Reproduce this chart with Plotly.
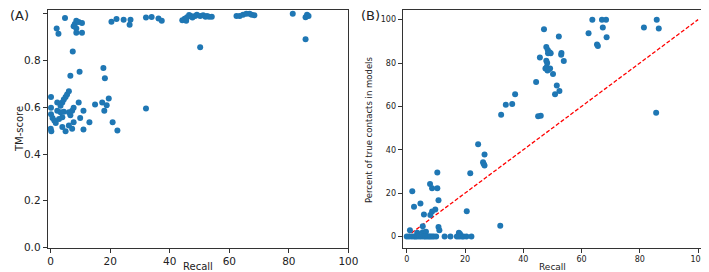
import plotly.graph_objects as go

# ---------- Panel A data: Recall vs TM-score ----------
recall_a = [4.8, 2.0, 2.6, 8.6, 8.1, 9.4, 10.5, 7.7, 8.6, 8.6, 10.5, 7.4, 6.6, 9.7, 17.7, 18.2,
            20.4, 22.1, 24.5, 26.8, 26.5, 32.0, 33.9, 36.2, 37.3, 32.0,
            44.2, 45.0, 45.5, 45.8, 46.5, 47.1, 47.6, 48.5, 49.1, 50.2, 51.2, 52.0, 52.5, 53.2, 54.1, 50.2,
            62.4, 63.5, 64.6, 65.7, 66.8, 67.5, 68.4, 81.3, 85.6, 85.6, 86.1, 86.6,
            0.1, 0.1, 0.1, 0.6, 1.2, 1.7, 0.0, 0.2, 2.2, 3.9, 4.4, 5.0, 5.5, 6.1, 3.3, 2.2, 3.3, 4.4,
            6.1, 7.2, 7.7, 6.6, 3.9, 2.8, 9.4, 11.0, 9.9, 7.7, 6.1, 3.9, 5.0, 7.2, 11.0, 13.0, 14.9,
            17.3, 18.8, 18.0, 19.5, 20.8, 22.4]
tm_score = [0.981, 0.937, 0.914, 0.970, 0.956, 0.964, 0.960, 0.946, 0.937, 0.918, 0.918, 0.838, 0.735, 0.752, 0.768, 0.724,
            0.965, 0.977, 0.974, 0.974, 0.953, 0.984, 0.986, 0.979, 0.970, 0.594,
            0.972, 0.978, 0.970, 0.985, 0.994, 0.990, 0.984, 0.990, 0.995, 0.990, 0.993, 0.987, 0.990, 0.987, 0.987, 0.856,
            0.990, 0.990, 0.995, 1.000, 1.000, 0.995, 0.993, 1.000, 0.891, 0.985, 0.995, 0.990,
            0.644, 0.598, 0.570, 0.554, 0.543, 0.533, 0.508, 0.497, 0.620, 0.620, 0.633, 0.644, 0.654, 0.668, 0.606, 0.585, 0.578, 0.581,
            0.578, 0.585, 0.598, 0.566, 0.557, 0.550, 0.620, 0.585, 0.554, 0.536, 0.522, 0.515, 0.497, 0.508, 0.505, 0.536, 0.612,
            0.620, 0.608, 0.585, 0.637, 0.536, 0.501]

# ---------- Panel B data: Recall vs percent of true contacts ----------
recall_b = [63.7, 62.4, 67.0, 68.4, 67.3, 65.3, 65.6, 68.6, 81.4, 85.8, 86.5, 85.6,
            47.1, 52.2, 45.7, 47.9, 48.4, 49.0, 49.4, 48.5, 53.1, 53.0, 47.9, 48.2, 53.9,
            48.0, 48.6, 49.2, 47.6, 48.3, 50.2, 44.4, 51.5, 50.9, 52.4, 45.1, 46.0,
            37.2, 36.2, 34.0, 32.4, 24.5, 26.7, 26.2, 26.4, 26.7, 21.8, 10.5, 8.0, 8.7, 10.5,
            1.9, 10.9, 2.5, 4.7, 5.9, 8.7, 8.1, 9.8, 20.6, 32.1, 10.9, 11.2, 1.1, 5.5, 3.6,
            5.5, 6.1, 6.6, 17.9, 18.3,
            0.0, 0.8, 1.7, 2.5, 3.0, 3.6, 4.4, 5.1, 5.9, 6.4, 7.0, 7.6, 8.1, 8.7, 9.3, 10.1,
            13.0, 15.0, 17.2, 18.0, 18.9, 19.5, 20.5, 22.2]
pct_true = [100.0, 93.7, 100.0, 100.0, 96.4, 88.5, 87.9, 91.9, 96.4, 100.0, 95.9, 57.1,
            95.6, 92.2, 82.5, 87.4, 86.0, 85.0, 84.5, 84.5, 84.6, 83.8, 81.0, 80.0, 80.9,
            78.0, 77.0, 77.5, 77.5, 76.5, 74.9, 71.3, 69.6, 65.6, 67.1, 55.5, 55.7,
            65.6, 61.1, 60.8, 56.1, 42.6, 37.8, 34.3, 33.5, 32.8, 29.2, 29.5, 24.2, 22.3, 22.3,
            20.9, 16.7, 13.7, 15.2, 10.2, 11.5, 9.9, 12.5, 11.7, 5.0, 4.4, 2.9, 2.9, 4.7, 1.7,
            2.0, 1.8, 2.2, 1.7, 1.2,
            0, 0, 0, 0, 0, 0, 0, 0, 0, 0, 0, 0, 0, 0, 0, 0,
            0, 0, 0, 0, 0, 0, 0, 0]

diag = [0, 100]

x_ticks = [0, 20, 40, 60, 80, 100]
a_y_ticks = [0.0, 0.2, 0.4, 0.6, 0.8, 1.0]
b_y_ticks = [0, 20, 40, 60, 80, 100]

BLUE = "#1f77b4"
FONT = "DejaVu Sans"
W, H = 709, 272

fig = go.Figure()
fig.add_trace(go.Scatter(x=recall_a, y=tm_score, mode="markers", xaxis="x", yaxis="y",
                         marker=dict(color=BLUE, size=6, line=dict(width=0)), showlegend=False))
fig.add_trace(go.Scatter(x=diag, y=diag, mode="lines", xaxis="x2", yaxis="y2",
                         line=dict(color="red", width=1.3, dash="4px,2px"), showlegend=False))
fig.add_trace(go.Scatter(x=recall_b, y=pct_true, mode="markers", xaxis="x2", yaxis="y2",
                         marker=dict(color=BLUE, size=6, line=dict(width=0)), showlegend=False))

def px_x(p):
    return p / W

def px_y(p):
    return 1 - p / H

axis_common = dict(showline=True, linecolor="#333", linewidth=1, mirror=True, ticks="outside",
                   ticklen=4, tickcolor="#333", showgrid=False, zeroline=False)

fig.update_layout(
    width=W, height=H, margin=dict(l=0, r=0, t=0, b=0),
    paper_bgcolor="white", plot_bgcolor="white",
    font=dict(family=FONT, color="#222"),
    xaxis=dict(domain=[px_x(40.3), px_x(345.3)], range=[-1.0, 100.0], tickvals=x_ticks,
               tickfont=dict(size=10.5), anchor="y", **axis_common),
    yaxis=dict(domain=[px_y(245), px_y(1.7)], range=[0, 1.017], tickvals=a_y_ticks, tickformat=".1f",
               tickfont=dict(size=10.5), anchor="x", **axis_common),
    xaxis2=dict(domain=[px_x(400.3), px_x(705.3)], range=[-1.4, 101.8], tickvals=x_ticks,
                tickfont=dict(size=8), anchor="y2", **axis_common),
    yaxis2=dict(domain=[px_y(245), px_y(1.7)], range=[-5.1, 104.6], tickvals=b_y_ticks,
                tickfont=dict(size=8), anchor="x2", **axis_common),
    annotations=[
        dict(text="(A)", x=0, y=px_y(8), xref="paper", yref="paper", xanchor="left", yanchor="middle",
             showarrow=False, font=dict(size=13)),
        dict(text="(B)", x=px_x(356), y=px_y(8), xref="paper", yref="paper", xanchor="left", yanchor="middle",
             showarrow=False, font=dict(size=13)),
        dict(text="TM-score", x=px_x(11), y=px_y(124), xref="paper", yref="paper", textangle=-90,
             xanchor="center", yanchor="middle", showarrow=False, font=dict(size=10)),
        dict(text="Percent of true contacts in models", x=px_x(366), y=px_y(124), xref="paper", yref="paper",
             textangle=-90, xanchor="center", yanchor="middle", showarrow=False, font=dict(size=8.5)),
        dict(text="Recall", x=px_x(192.5), y=px_y(264.5), xref="paper", yref="paper",
             xanchor="center", yanchor="middle", showarrow=False, font=dict(size=10)),
        dict(text="Recall", x=px_x(552), y=px_y(264.5), xref="paper", yref="paper",
             xanchor="center", yanchor="middle", showarrow=False, font=dict(size=9)),
    ],
)

fig.write_html("out.html")
